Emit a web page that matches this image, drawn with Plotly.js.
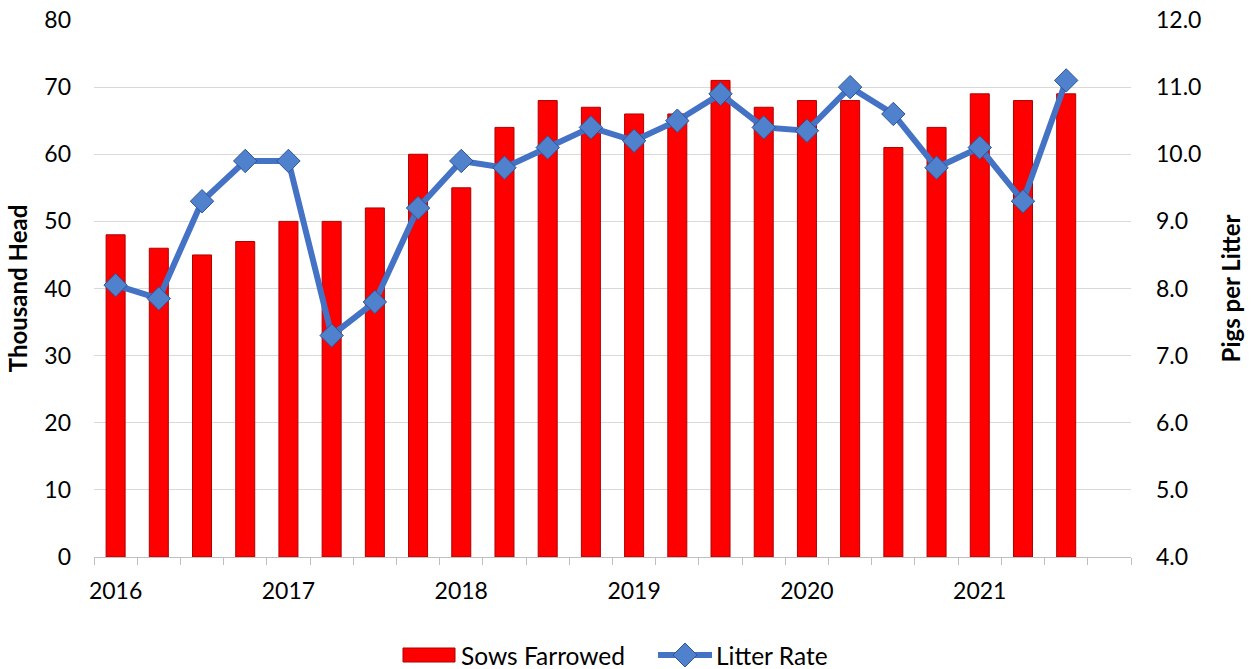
<!DOCTYPE html>
<html>
<head>
<meta charset="utf-8">
<script src="https://cdn.plot.ly/plotly-3.0.1.min.js"></script>
<style>html,body{margin:0;padding:0;background:#fff;}#chart{width:1252px;height:669px;}</style>
</head>
<body>
<div id="chart"></div>
<script>
// Quarterly categories (2016 Q1 .. 2021 Q4; last slot empty)
const quarters = [
  '2016 Q1','2016 Q2','2016 Q3','2016 Q4',
  '2017 Q1','2017 Q2','2017 Q3','2017 Q4',
  '2018 Q1','2018 Q2','2018 Q3','2018 Q4',
  '2019 Q1','2019 Q2','2019 Q3','2019 Q4',
  '2020 Q1','2020 Q2','2020 Q3','2020 Q4',
  '2021 Q1','2021 Q2','2021 Q3','2021 Q4'
];
const sowsFarrowed = [48,46,45,47, 50,50,52,60, 55,64,68,67, 66,66,71,67, 68,68,61,64, 69,68,69,null];
const litterRate = [8.05,7.85,9.3,9.9, 9.9,7.3,7.8,9.2, 9.9,9.8,10.1,10.4, 10.2,10.5,10.9,10.4, 10.35,11.0,10.6,9.8, 10.1,9.3,11.1,null];
const yearTickVals = ['2016 Q1','2017 Q1','2018 Q1','2019 Q1','2020 Q1','2021 Q1'];
const yearTickText = ['2016','2017','2018','2019','2020','2021'];
const seriesNames = ['Sows Farrowed', 'Litter Rate'];

const FONT = 'Lato, "Open Sans", sans-serif';
const BAR_COLOR = '#FF0000', BAR_EDGE = '#B00000';
const LINE_COLOR = '#4472C4', MARK_COLOR = '#4F81CC', MARK_EDGE = '#2F5597';

const traces = [
  {
    type: 'bar', name: seriesNames[0], x: quarters, y: sowsFarrowed,
    marker: {color: BAR_COLOR, line: {color: BAR_EDGE, width: 1}},
    width: 0.44, yaxis: 'y', xaxis: 'x', showlegend: false
  },
  {
    type: 'scatter', mode: 'lines+markers', name: seriesNames[1], x: quarters, y: litterRate,
    line: {color: LINE_COLOR, width: 6},
    marker: {symbol: 'diamond', size: 18, color: MARK_COLOR, line: {color: MARK_EDGE, width: 1}},
    yaxis: 'y2', xaxis: 'x', connectgaps: false, showlegend: false
  },
  {type: 'scatter', x: [null], y: [null], xaxis: 'x2', yaxis: 'y', showlegend: false, hoverinfo: 'skip'}
];

// Custom legend (paper coordinates); plot area is 1037 x 537 px
const W = 1037, H = 537, L = 94, T = 20;
const px = v => (v - L) / W;
const py = v => (T + H - v) / H;
const legY = 655;
const dcx = px(685), dcy = py(legY), dhx = 12 / W, dhy = 12 / H;

const shapes = [
  {type: 'rect', xref: 'paper', yref: 'paper', x0: px(403), x1: px(455), y0: py(648), y1: py(662),
   fillcolor: BAR_COLOR, line: {color: BAR_EDGE, width: 1}},
  {type: 'line', xref: 'paper', yref: 'paper', x0: px(658), x1: px(712), y0: dcy, y1: dcy,
   line: {color: LINE_COLOR, width: 6}},
  {type: 'path', xref: 'paper', yref: 'paper',
   path: `M ${dcx - dhx} ${dcy} L ${dcx} ${dcy + dhy} L ${dcx + dhx} ${dcy} L ${dcx} ${dcy - dhy} Z`,
   fillcolor: MARK_COLOR, line: {color: MARK_EDGE, width: 1}}
];
const annotations = [
  {xref: 'paper', yref: 'paper', x: px(459), y: py(legY), xanchor: 'left', yanchor: 'middle',
   text: seriesNames[0], showarrow: false, font: {family: FONT, size: 24.5, color: '#000'}},
  {xref: 'paper', yref: 'paper', x: px(714), y: py(legY), xanchor: 'left', yanchor: 'middle',
   text: seriesNames[1], showarrow: false, font: {family: FONT, size: 24.5, color: '#000'}}
];

const layout = {
  width: 1252, height: 669,
  margin: {l: 94, r: 121, t: 20, b: 112, autoexpand: false},
  paper_bgcolor: '#FFFFFF', plot_bgcolor: '#FFFFFF',
  font: {family: FONT, size: 23, color: '#000000'},
  showlegend: false,
  shapes: shapes, annotations: annotations,
  xaxis: {
    type: 'category', categoryorder: 'array', categoryarray: quarters,
    range: [-0.5, 23.5], tickvals: yearTickVals, ticktext: yearTickText,
    ticks: '', showgrid: false, zeroline: false,
    showline: true, linecolor: '#BFBFBF', linewidth: 1,
    tickfont: {family: FONT, size: 23}, ticklabelstandoff: 13, automargin: false
  },
  xaxis2: {
    overlaying: 'x', anchor: 'y', side: 'bottom', range: [-0.5, 23.5],
    tick0: -0.5, dtick: 1, ticks: 'outside', ticklen: 7, tickcolor: '#BFBFBF', tickwidth: 1,
    showticklabels: false, showgrid: false, zeroline: false, showline: false
  },
  yaxis: {
    range: [0, 80], dtick: 10, showgrid: true, gridcolor: '#D9D9D9', gridwidth: 1,
    zeroline: false, showline: false, ticks: '', automargin: false,
    tickfont: {family: FONT, size: 23}, ticklabelstandoff: 22,
    title: {text: '<b>Thousand Head</b>', font: {family: FONT, size: 24}, standoff: 9}
  },
  yaxis2: {
    overlaying: 'y', side: 'right', range: [4, 12], dtick: 1, tickformat: '.1f',
    showgrid: false, zeroline: false, showline: false, ticks: '', automargin: false,
    tickfont: {family: FONT, size: 23}, ticklabelstandoff: 24,
    title: {text: '<b>Pigs per Litter</b>', font: {family: FONT, size: 24}, standoff: 22}
  }
};

Plotly.newPlot('chart', traces, layout, {displayModeBar: false, staticPlot: true});
</script>
</body>
</html>
